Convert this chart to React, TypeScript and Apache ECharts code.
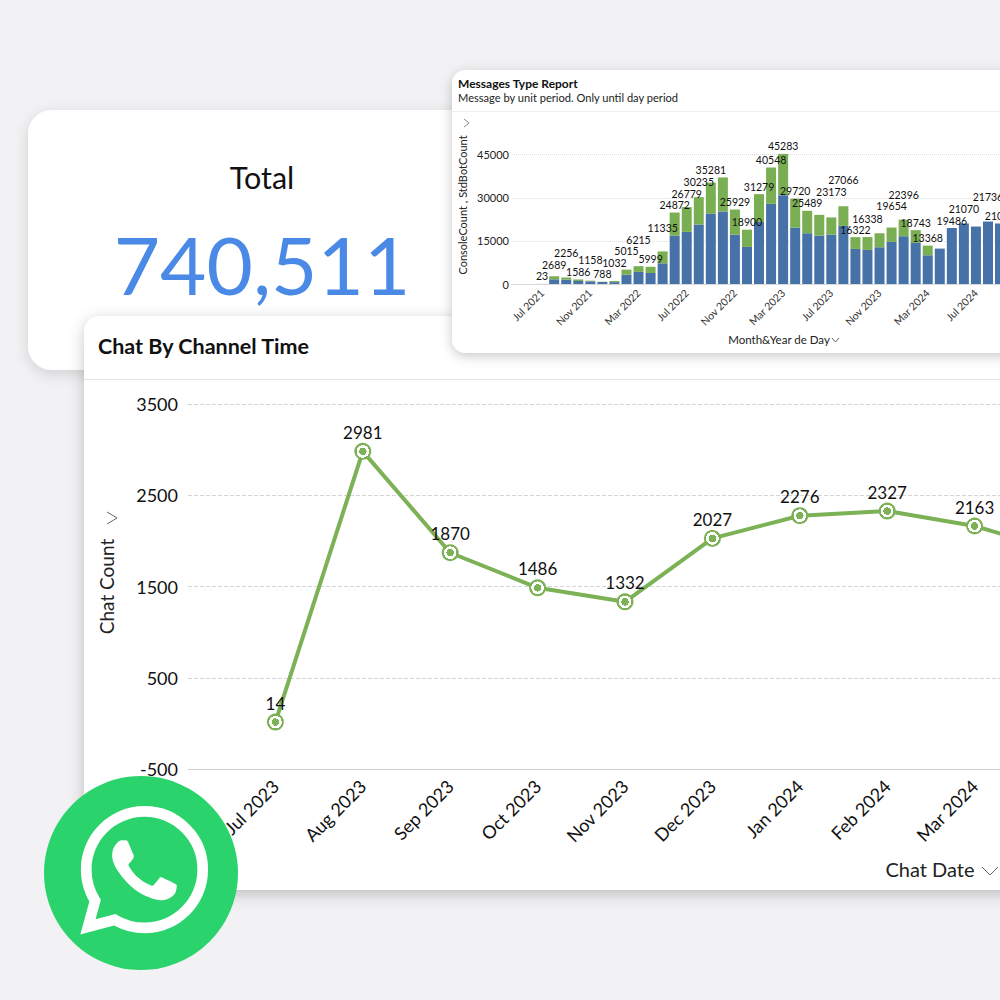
import React, { useEffect, useRef } from "react";
import * as echarts from "echarts";

const FONT = "Lato";
const BLUE = "#4672A8";
const GREEN = "#7AAE53";
const LINE_GREEN = "#7CB156";

const chatDates = ["", "Jul 2023", "Aug 2023", "Sep 2023", "Oct 2023", "Nov 2023", "Dec 2023", "Jan 2024", "Feb 2024", "Mar 2024", "Apr 2024"];
const chatCounts = [null, 14, 2981, 1870, 1486, 1332, 2027, 2276, 2327, 2163, 1880];
const chatTicks = [-500, 500, 1500, 2500, 3500];

const months = ["", "",
  "Jul 2021", "Aug 2021", "Sep 2021", "Oct 2021", "Nov 2021", "Dec 2021",
  "Jan 2022", "Feb 2022", "Mar 2022", "Apr 2022", "May 2022", "Jun 2022", "Jul 2022", "Aug 2022", "Sep 2022", "Oct 2022", "Nov 2022", "Dec 2022",
  "Jan 2023", "Feb 2023", "Mar 2023", "Apr 2023", "May 2023", "Jun 2023", "Jul 2023", "Aug 2023", "Sep 2023", "Oct 2023", "Nov 2023", "Dec 2023",
  "Jan 2024", "Feb 2024", "Mar 2024", "Apr 2024", "May 2024", "Jun 2024", "Jul 2024", "Aug 2024", "Sep 2024"];
const consoleCount = [null, null, 23, 1630, 1510, 1050, 930, 700, 650, 3250, 4200, 3840, 7200, 16860, 18140, 20700, 24420, 25230, 17200, 12900, 21630, 27900, 30930, 19650, 17670, 16860, 17200, 20230, 12200, 11860, 12790, 14650, 16630, 14300, 10000, 12325, 19486, 21070, 20000, 21736, 21058];
const messageTotals = [null, null, 23, 2689, 2256, 1586, 1158, 788, 1032, 5015, 6215, 5999, 11335, 24872, 26779, 30235, 35281, 37090, 25929, 18900, 31279, 40548, 45283, 29720, 25489, 24070, 23173, 27066, 16322, 16338, 17674, 19654, 22396, 18743, 13368, 12325, 19486, 21070, 20000, 21736, 21058];
const hiddenLabels = [37090, 24070, 17674, 12325, 20000];
const messageTicks = [0, 15000, 30000, 45000];
// px lift of each staggered total label above its bar (a layout list, not data)
const labelLift = [0, 0, 0, 4, 17, 0, 13, 0, 11, 11, 19, 0, 16, 0, 6, 8, 5, 0, 0, 0, 0, 0, 0, 0, 0, 0, 18, 19, 0, 11, 0, 14, 17, 0, 0, 0, 0, 7, 0, 17, 0];

const WA_PATH = "M17.472 14.382c-.297-.149-1.758-.867-2.03-.967-.273-.099-.471-.148-.67.15-.197.297-.767.966-.94 1.164-.173.199-.347.223-.644.075-.297-.15-1.255-.463-2.39-1.475-.883-.788-1.48-1.761-1.653-2.059-.173-.297-.018-.458.13-.606.134-.133.298-.347.446-.52.149-.174.198-.298.298-.497.099-.198.05-.371-.025-.52-.075-.149-.669-1.612-.916-2.207-.242-.579-.487-.5-.669-.51-.173-.008-.371-.01-.57-.01-.198 0-.52.074-.792.372-.272.297-1.04 1.016-1.04 2.479 0 1.462 1.065 2.875 1.213 3.074.149.198 2.096 3.2 5.077 4.487.709.306 1.262.489 1.694.625.712.227 1.36.195 1.871.118.571-.085 1.758-.719 2.006-1.413.248-.694.248-1.289.173-1.413-.074-.124-.272-.198-.57-.347m-5.421 7.403h-.004a9.87 9.87 0 0 1-5.031-1.378l-.361-.214-3.741.982.998-3.648-.235-.374a9.86 9.86 0 0 1-1.51-5.26c.001-5.45 4.436-9.884 9.888-9.884 2.64 0 5.122 1.03 6.988 2.898a9.825 9.825 0 0 1 2.893 6.994c-.003 5.45-4.437 9.884-9.885 9.884m8.413-18.297A11.815 11.815 0 0 0 12.05 0C5.495 0 .16 5.335.157 11.892c0 2.096.547 4.142 1.588 5.945L.057 24l6.305-1.654a11.882 11.882 0 0 0 5.683 1.448h.005c6.554 0 11.89-5.335 11.893-11.893a11.821 11.821 0 0 0-3.48-8.413Z";

echarts.graphic.registerShape("walogo", echarts.graphic.extendPath(WA_PATH, {}));

const chevron = (points: number[][], z: number, color = "#666") => ({
  type: "polyline", z, shape: { points }, style: { stroke: color, lineWidth: 1, fill: "none" },
});

export default function App() {
  const ref = useRef<HTMLDivElement>(null);
  useEffect(() => {
    document.body.style.margin = "0";
    const chart = echarts.init(ref.current!, null, { renderer: "svg" });
    const BAND = 12.05;
    const STEP = 87.4;
    chart.setOption({
      animation: false,
      backgroundColor: "#F2F2F4",
      textStyle: { fontFamily: FONT },
      graphic: [
        { type: "rect", z: 0, shape: { x: 28, y: 110, width: 460, height: 260, r: 24 }, style: { fill: "#fff", shadowBlur: 14, shadowColor: "rgba(0,0,0,0.14)", shadowOffsetY: 4 } },
        { type: "text", z: 1, x: 262, y: 176.5, style: { text: "Total", fontFamily: FONT, fontSize: 30.5, fill: "#111", align: "center", verticalAlign: "middle" } },
        { type: "text", z: 1, x: 262, y: 264, style: { text: "740,511", fontFamily: FONT, fontSize: 80, fill: "#4A8AE6", align: "center", verticalAlign: "middle" } },

        { type: "rect", z: 2, shape: { x: 84, y: 316, width: 960, height: 574, r: 16 }, style: { fill: "#fff", shadowBlur: 16, shadowColor: "rgba(0,0,0,0.22)", shadowOffsetY: 4 } },
        { type: "text", z: 3, x: 98, y: 346, style: { text: "Chat By Channel Time", fontFamily: FONT, fontSize: 21.5, fontWeight: "bold", fill: "#111", verticalAlign: "middle" } },
        { type: "line", z: 3, shape: { x1: 84, y1: 379.5, x2: 1000, y2: 379.5 }, style: { stroke: "#E4E4E4", lineWidth: 1 } },
        chevron([[107, 512], [117, 518], [107, 524]], 3),
        chevron([[982, 867], [990, 875], [998, 867]], 3),

        { type: "rect", z: 10, shape: { x: 452, y: 70, width: 590, height: 283, r: 14 }, style: { fill: "#fff", shadowBlur: 12, shadowColor: "rgba(0,0,0,0.22)", shadowOffsetY: 3 } },
        { type: "text", z: 11, x: 458, y: 83, style: { text: "Messages Type Report", fontFamily: FONT, fontSize: 12, fontWeight: "bold", fill: "#111", verticalAlign: "middle" } },
        { type: "text", z: 11, x: 458, y: 97, style: { text: "Message by unit period. Only until day period", fontFamily: FONT, fontSize: 11.1, fill: "#222", verticalAlign: "middle" } },
        { type: "line", z: 11, shape: { x1: 452, y1: 111.5, x2: 1000, y2: 111.5 }, style: { stroke: "#EEEEEE", lineWidth: 1 } },
        chevron([[464, 119], [469, 123], [464, 127]], 11, "#888"),
        chevron([[832, 338], [835.5, 342], [839, 338]], 11),

        { type: "circle", z: 20, shape: { cx: 141, cy: 873, r: 97 }, style: { fill: "#2AD36B" } },
        { type: "walogo", z: 21, x: 80, y: 806, scaleX: 5.35, scaleY: 5.35, style: { fill: "#fff" } },
      ],
      grid: [
        { left: 188, top: 404, width: STEP * (chatDates.length - 1), height: 365, outerBoundsMode: "none" },
        { left: 512, top: 126, width: BAND * months.length, height: 158, outerBoundsMode: "none" },
      ],
      xAxis: [
        {
          type: "category", gridIndex: 0, z: 5, data: chatDates, boundaryGap: false,
          axisLine: { onZero: false, lineStyle: { color: "#CFCFCF", width: 1 } }, axisTick: { show: false },
          axisLabel: { interval: 0, rotate: 45, fontFamily: FONT, fontSize: 18, color: "#111", margin: 14 },
          name: "Chat Date", nameLocation: "middle", nameGap: 90, nameMoveOverlap: false,
          nameTextStyle: { fontFamily: FONT, fontSize: 20, color: "#222", padding: [0, 0, 0, 610] },
        },
        {
          type: "category", gridIndex: 1, z: 11, data: months,
          axisLine: { onZero: false, lineStyle: { color: "#D8D8D8", width: 1 } }, axisTick: { show: false },
          axisLabel: { interval: (i: number) => i >= 2 && (i - 2) % 4 === 0, rotate: 45, fontFamily: FONT, fontSize: 10.5, color: "#333", margin: 7 },
          name: "Month&Year de Day", nameLocation: "middle", nameGap: 49, nameMoveOverlap: false,
          nameTextStyle: { fontFamily: FONT, fontSize: 11.5, color: "#222", padding: [0, 0, 0, 40] },
        },
      ],
      yAxis: [
        {
          type: "value", gridIndex: 0, z: 5, min: -500, max: 3500,
          axisLine: { show: false }, axisTick: { show: false, customValues: chatTicks },
          axisLabel: { customValues: chatTicks, formatter: (v: number) => String(v), fontFamily: FONT, fontSize: 18, color: "#111", margin: 10 },
          splitLine: { show: true, lineStyle: { color: "#D6D6D6", type: "dashed" } },
          name: "Chat Count", nameLocation: "middle", nameRotate: 90, nameGap: 72, nameMoveOverlap: false,
          nameTextStyle: { fontFamily: FONT, fontSize: 19, color: "#222" },
        },
        {
          type: "value", gridIndex: 1, z: 11, min: 0, max: 55000,
          axisLine: { show: false }, axisTick: { show: false, customValues: messageTicks },
          axisLabel: { customValues: messageTicks, formatter: (v: number) => String(v), fontFamily: FONT, fontSize: 11, color: "#222", margin: 3 },
          splitLine: { show: true, lineStyle: { color: "#DDDDDD", type: "dotted" } },
          name: "ConsoleCount , StdBotCount", nameLocation: "middle", nameRotate: 90, nameGap: 44, nameMoveOverlap: false,
          nameTextStyle: { fontFamily: FONT, fontSize: 11, color: "#222" },
        },
      ],
      series: [
        {
          type: "line", xAxisIndex: 0, yAxisIndex: 0, z: 6, data: chatCounts,
          lineStyle: { color: LINE_GREEN, width: 4 }, symbol: "circle", symbolSize: 17,
          itemStyle: {
            color: {
              type: "radial", x: 0.5, y: 0.5, r: 0.5,
              colorStops: [
                { offset: 0, color: LINE_GREEN }, { offset: 0.44, color: LINE_GREEN },
                { offset: 0.44, color: "#fff" }, { offset: 0.74, color: "#fff" },
                { offset: 0.74, color: LINE_GREEN }, { offset: 1, color: LINE_GREEN },
              ],
            },
          },
          label: { show: true, position: "top", distance: 2, fontFamily: FONT, fontSize: 17, color: "#111" },
        },
        {
          name: "ConsoleCount", type: "bar", xAxisIndex: 1, yAxisIndex: 1, z: 12, stack: "m", barWidth: 10,
          data: consoleCount, itemStyle: { color: BLUE },
        },
        {
          name: "StdBotCount", type: "bar", xAxisIndex: 1, yAxisIndex: 1, z: 12, stack: "m", barWidth: 10,
          itemStyle: { color: GREEN },
          data: messageTotals.map((t, i) => {
            if (t === null) return null;
            return {
              value: t - (consoleCount[i] as number),
              label: {
                show: !hiddenLabels.includes(t),
                position: "top", distance: 2,
                formatter: String(t),
                offset: [0, -labelLift[i]],
                fontFamily: FONT, fontSize: 10.5, color: "#111",
              },
            };
          }),
        },
      ],
    });
    return () => chart.dispose();
  }, []);
  return <div ref={ref} style={{ position: "fixed", left: 0, top: 0, width: 1000, height: 1000 }} />;
}
